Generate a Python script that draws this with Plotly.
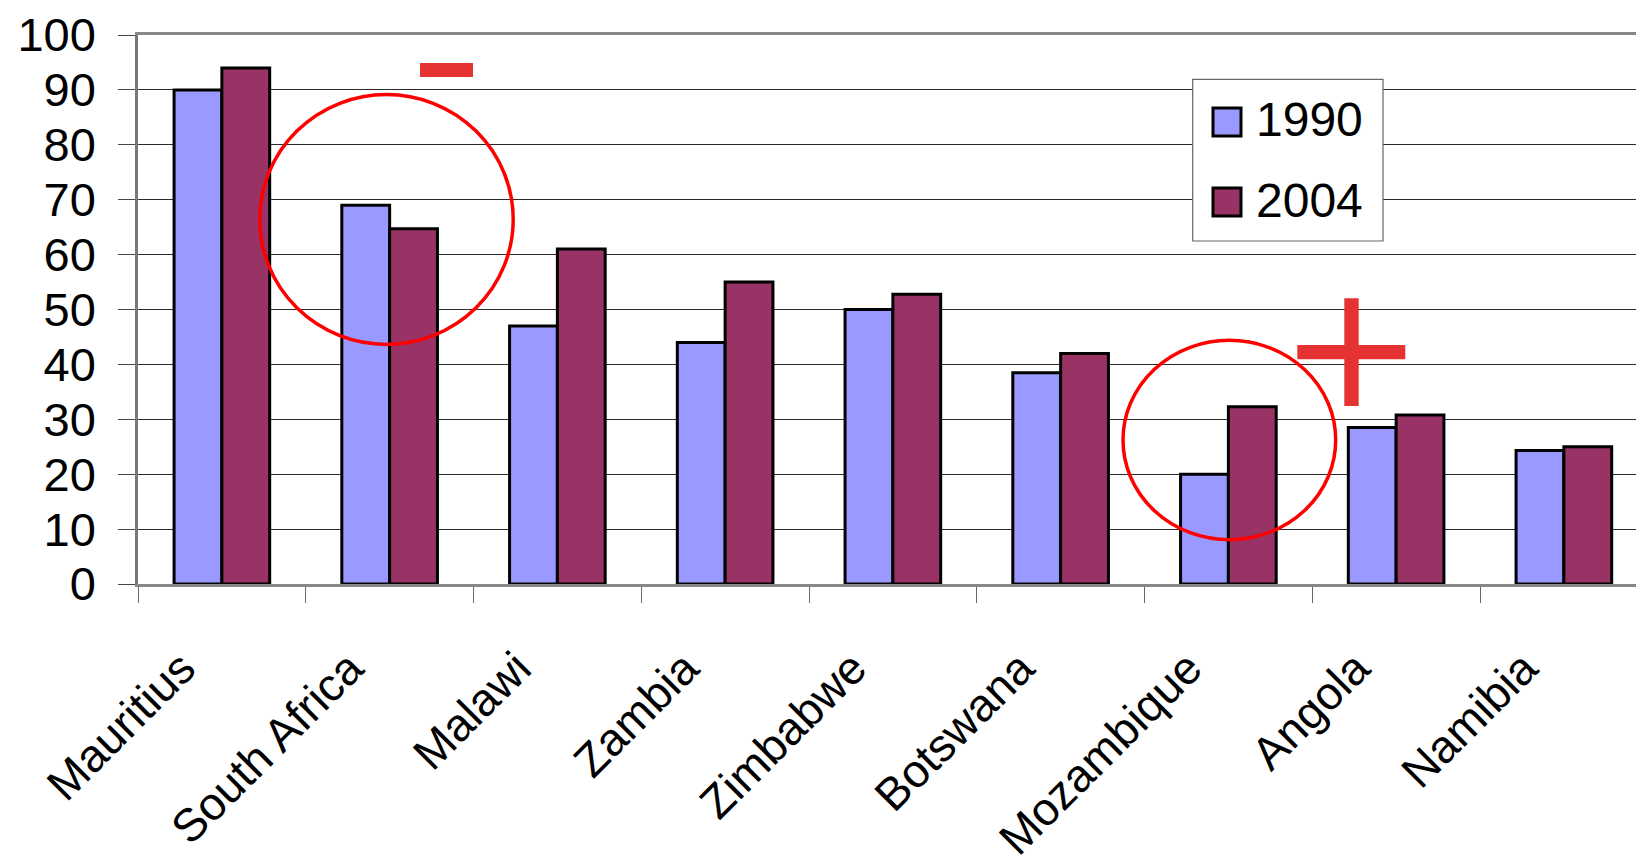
import plotly.graph_objects as go

# ---- data ----
countries = ["Mauritius", "South Africa", "Malawi", "Zambia", "Zimbabwe",
             "Botswana", "Mozambique", "Angola", "Namibia"]
values_1990 = [90, 69, 47, 44, 50, 38.5, 20, 28.5, 24.3]
values_2004 = [94, 64.7, 61, 55, 52.8, 42, 32.3, 30.8, 25]
series_names = ["1990", "2004"]
y_ticks = [0, 10, 20, 30, 40, 50, 60, 70, 80, 90, 100]

# ---- layout geometry ----
W, H = 1636, 867
L, R, T, B = 138, 0, 35, 283
PW, PH = W - L - R, H - T - B
CAT_PX = 167.75  # pixels per category


def px(x):
    return (x - L) / PW


def py(y):
    return (H - B - y) / PH


COL_1990 = "#9999FF"
COL_2004 = "#993366"
RED = "#FF0000"
RED2 = "#E53333"

fig = go.Figure()
fig.add_trace(go.Bar(x=countries, y=values_1990, name=series_names[0],
                     marker=dict(color=COL_1990, line=dict(color="black", width=3)),
                     showlegend=False))
fig.add_trace(go.Bar(x=countries, y=values_2004, name=series_names[1],
                     marker=dict(color=COL_2004, line=dict(color="black", width=3)),
                     showlegend=False))

shapes = []
annotations = []

# red ellipses
for (x0, y0, x1, y1) in [(259.7, 94.5, 513.2, 344.4), (1123, 340.3, 1335.7, 539.7)]:
    shapes.append(dict(type="circle", xref="paper", yref="paper",
                       x0=px(x0), x1=px(x1), y0=py(y1), y1=py(y0),
                       line=dict(color=RED, width=3.5), layer="above"))
# minus sign
shapes.append(dict(type="rect", xref="paper", yref="paper",
                   x0=px(420), x1=px(473), y0=py(77), y1=py(63),
                   fillcolor=RED2, line=dict(width=0), layer="above"))
# plus sign
shapes.append(dict(type="rect", xref="paper", yref="paper",
                   x0=px(1344.3), x1=px(1358.7), y0=py(406), y1=py(298.3),
                   fillcolor=RED2, line=dict(width=0), layer="above"))
shapes.append(dict(type="rect", xref="paper", yref="paper",
                   x0=px(1297.3), x1=px(1405.3), y0=py(359.3), y1=py(345),
                   fillcolor=RED2, line=dict(width=0), layer="above"))

# legend box
shapes.append(dict(type="rect", xref="paper", yref="paper",
                   x0=px(1192.7), x1=px(1383), y0=py(241), y1=py(79.3),
                   fillcolor="white", line=dict(color="#666666", width=1.2),
                   layer="above"))
for i, (name, col) in enumerate(zip(series_names, [COL_1990, COL_2004])):
    cy = 122 + 80 * i
    shapes.append(dict(type="rect", xref="paper", yref="paper",
                       x0=px(1213), x1=px(1241), y0=py(cy + 14), y1=py(cy - 14),
                       fillcolor=col, line=dict(color="black", width=3),
                       layer="above"))
    annotations.append(dict(text=name, xref="paper", yref="paper",
                            x=px(1254), y=py(cy - 2), xanchor="left", yanchor="middle",
                            showarrow=False,
                            font=dict(family="Liberation Sans, Arial", size=48, color="black")))

fig.update_layout(
    width=W, height=H, autosize=False,
    margin=dict(l=L, r=R, t=T, b=B, pad=0, autoexpand=False),
    paper_bgcolor="white", plot_bgcolor="white",
    barmode="group", bargap=0.43, bargroupgap=0,
    font=dict(family="Liberation Sans, Arial", color="black"),
    shapes=shapes, annotations=annotations,
    xaxis=dict(
        type="category", automargin=False,
        range=[-0.5, -0.5 + PW / CAT_PX],
        showgrid=False, zeroline=False,
        showline=True, linecolor="#888888", linewidth=2.5, mirror=True,
        ticks="outside", tickson="boundaries", ticklen=16,
        tickcolor="#666666", tickwidth=1.2,
        tickangle=-45,
        tickfont=dict(family="Liberation Sans, Arial", size=46, color="black"),
        ticklabelstandoff=36, ticklabelshift=-40,
    ),
    yaxis=dict(
        automargin=False,
        range=[0, 100], tickvals=y_ticks,
        showgrid=True, gridcolor="#2a2a2a", gridwidth=1.2,
        zeroline=False,
        showline=True, linecolor="#777777", linewidth=2.5,
        ticks="outside", ticklen=17, tickcolor="#444444", tickwidth=1.2,
        tickfont=dict(family="Liberation Sans, Arial", size=47, color="black"),
        ticklabelstandoff=13,
    ),
)

fig.write_html("out.html")
